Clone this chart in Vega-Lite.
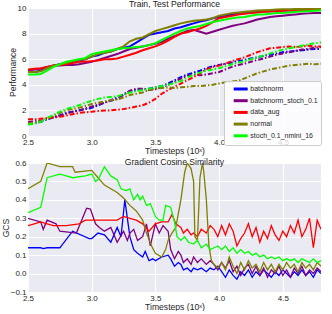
{
 "$schema": "https://vega.github.io/schema/vega-lite/v6.json",
 "padding": {"left": 1, "top": 0, "right": 12, "bottom": 0},
 "spacing": 2,
 "config": {
  "font": "Liberation Sans",
  "view": {"fill": "#EAEAF2", "stroke": null},
  "axis": {"grid": true, "gridColor": "#FFFFFF", "gridWidth": 1, "domain": false, "ticks": false, "labelFontSize": 8, "labelColor": "#262626", "titleFontSize": 8.6, "titleFontWeight": "normal", "titleColor": "#262626", "labelPadding": 2, "titlePadding": 0, "labelFlush": false, "labelOverlap": false},
  "title": {"fontSize": 8.6, "fontWeight": "normal", "color": "#1a1a1a"}
 },
 "datasets": {
  "train": [
   {"x":2.50,"a":5.0,"b":5.1,"c":5.2,"d":5.0,"e":4.8},
   {"x":2.55,"a":5.0,"b":5.2,"c":5.25,"d":5.0,"e":4.8},
   {"x":2.60,"a":5.1,"b":5.25,"c":5.3,"d":5.05,"e":4.85},
   {"x":2.65,"a":5.3,"b":5.4,"c":5.4,"d":5.3,"e":5.1},
   {"x":2.70,"a":5.5,"b":5.5,"c":5.5,"d":5.5,"e":5.4},
   {"x":2.75,"a":5.6,"b":5.5,"c":5.55,"d":5.6,"e":5.6},
   {"x":2.80,"a":5.7,"b":5.55,"c":5.6,"d":5.7,"e":5.8},
   {"x":2.85,"a":5.8,"b":5.55,"c":5.7,"d":5.85,"e":5.9},
   {"x":2.90,"a":5.9,"b":5.6,"c":5.8,"d":5.95,"e":6.0},
   {"x":2.95,"a":6.0,"b":5.7,"c":5.8,"d":6.0,"e":6.1},
   {"x":3.00,"a":6.2,"b":5.8,"c":5.85,"d":6.2,"e":6.4},
   {"x":3.05,"a":6.3,"b":5.95,"c":5.9,"d":6.4,"e":6.5},
   {"x":3.10,"a":6.5,"b":6.1,"c":6.0,"d":6.5,"e":6.6},
   {"x":3.15,"a":6.6,"b":6.25,"c":6.0,"d":6.6,"e":6.7},
   {"x":3.20,"a":6.8,"b":6.4,"c":6.05,"d":6.8,"e":6.8},
   {"x":3.25,"a":6.9,"b":6.6,"c":6.2,"d":7.0,"e":6.85},
   {"x":3.30,"a":7.0,"b":6.8,"c":6.35,"d":7.4,"e":6.9},
   {"x":3.35,"a":7.3,"b":6.9,"c":6.5,"d":7.6,"e":6.95},
   {"x":3.40,"a":7.6,"b":7.0,"c":6.7,"d":7.7,"e":7.0},
   {"x":3.45,"a":7.9,"b":7.1,"c":6.85,"d":7.95,"e":7.1},
   {"x":3.50,"a":8.0,"b":7.2,"c":7.0,"d":8.2,"e":7.25},
   {"x":3.55,"a":8.1,"b":7.35,"c":7.2,"d":8.35,"e":7.5},
   {"x":3.60,"a":8.2,"b":7.6,"c":7.45,"d":8.5,"e":7.75},
   {"x":3.65,"a":8.4,"b":7.8,"c":7.75,"d":8.65,"e":8.0},
   {"x":3.70,"a":8.5,"b":8.0,"c":8.0,"d":8.8,"e":8.2},
   {"x":3.75,"a":8.65,"b":8.2,"c":8.1,"d":8.9,"e":8.4},
   {"x":3.80,"a":8.8,"b":8.3,"c":8.25,"d":9.0,"e":8.5},
   {"x":3.85,"a":8.95,"b":8.15,"c":8.4,"d":9.05,"e":8.6},
   {"x":3.90,"a":9.05,"b":8.0,"c":8.6,"d":9.1,"e":8.75},
   {"x":3.95,"a":9.2,"b":8.15,"c":8.9,"d":9.2,"e":8.9},
   {"x":4.00,"a":9.3,"b":8.3,"c":9.2,"d":9.4,"e":9.0},
   {"x":4.05,"a":9.4,"b":8.45,"c":9.3,"d":9.5,"e":9.1},
   {"x":4.10,"a":9.5,"b":8.6,"c":9.4,"d":9.6,"e":9.2},
   {"x":4.15,"a":9.55,"b":8.7,"c":9.5,"d":9.65,"e":9.25},
   {"x":4.20,"a":9.6,"b":8.8,"c":9.55,"d":9.7,"e":9.3},
   {"x":4.25,"a":9.65,"b":8.95,"c":9.6,"d":9.75,"e":9.4},
   {"x":4.30,"a":9.7,"b":9.1,"c":9.65,"d":9.8,"e":9.5},
   {"x":4.35,"a":9.72,"b":9.2,"c":9.7,"d":9.82,"e":9.5},
   {"x":4.40,"a":9.75,"b":9.3,"c":9.72,"d":9.85,"e":9.55},
   {"x":4.45,"a":9.78,"b":9.35,"c":9.75,"d":9.88,"e":9.6},
   {"x":4.50,"a":9.8,"b":9.4,"c":9.78,"d":9.9,"e":9.6},
   {"x":4.55,"a":9.82,"b":9.45,"c":9.8,"d":9.9,"e":9.65},
   {"x":4.60,"a":9.85,"b":9.5,"c":9.82,"d":9.92,"e":9.7},
   {"x":4.65,"a":9.87,"b":9.55,"c":9.84,"d":9.93,"e":9.72},
   {"x":4.70,"a":9.88,"b":9.58,"c":9.86,"d":9.94,"e":9.75},
   {"x":4.75,"a":9.9,"b":9.6,"c":9.88,"d":9.95,"e":9.78},
   {"x":4.80,"a":9.9,"b":9.6,"c":9.9,"d":9.95,"e":9.8}
  ],
  "test": [
   {"x":2.50,"a":1.0,"b":1.1,"c":1.3,"d":1.0,"e":0.9},
   {"x":2.55,"a":1.0,"b":1.15,"c":1.3,"d":1.05,"e":0.95},
   {"x":2.60,"a":1.1,"b":1.2,"c":1.35,"d":1.15,"e":1.1},
   {"x":2.65,"a":1.3,"b":1.35,"c":1.4,"d":1.4,"e":1.4},
   {"x":2.70,"a":1.45,"b":1.5,"c":1.45,"d":1.6,"e":1.65},
   {"x":2.75,"a":1.6,"b":1.6,"c":1.5,"d":1.8,"e":1.9},
   {"x":2.80,"a":1.8,"b":1.75,"c":1.6,"d":2.0,"e":2.1},
   {"x":2.85,"a":1.9,"b":1.9,"c":1.7,"d":2.1,"e":2.25},
   {"x":2.90,"a":2.0,"b":2.0,"c":1.8,"d":2.2,"e":2.4},
   {"x":2.95,"a":2.1,"b":2.15,"c":1.85,"d":2.35,"e":2.6},
   {"x":3.00,"a":2.2,"b":2.3,"c":1.9,"d":2.5,"e":2.75},
   {"x":3.05,"a":2.4,"b":2.45,"c":1.95,"d":2.6,"e":2.9},
   {"x":3.10,"a":2.6,"b":2.6,"c":2.0,"d":2.7,"e":3.0},
   {"x":3.15,"a":2.8,"b":2.75,"c":2.0,"d":2.8,"e":3.05},
   {"x":3.20,"a":3.0,"b":2.9,"c":2.05,"d":2.85,"e":3.1},
   {"x":3.25,"a":3.25,"b":3.2,"c":2.1,"d":3.0,"e":3.25},
   {"x":3.30,"a":3.5,"b":3.55,"c":2.2,"d":3.2,"e":3.4},
   {"x":3.35,"a":3.6,"b":3.7,"c":2.3,"d":3.3,"e":3.5},
   {"x":3.40,"a":3.65,"b":3.7,"c":2.4,"d":3.4,"e":3.6},
   {"x":3.45,"a":3.7,"b":3.6,"c":2.6,"d":3.6,"e":3.7},
   {"x":3.50,"a":3.8,"b":3.65,"c":2.9,"d":3.7,"e":3.8},
   {"x":3.55,"a":3.9,"b":3.8,"c":3.3,"d":3.75,"e":3.9},
   {"x":3.60,"a":4.1,"b":4.0,"c":3.6,"d":3.8,"e":4.0},
   {"x":3.65,"a":4.35,"b":4.2,"c":3.85,"d":3.75,"e":4.15},
   {"x":3.70,"a":4.6,"b":4.5,"c":4.1,"d":3.8,"e":4.3},
   {"x":3.75,"a":4.8,"b":4.7,"c":4.35,"d":3.85,"e":4.55},
   {"x":3.80,"a":4.95,"b":4.8,"c":4.6,"d":3.9,"e":4.8},
   {"x":3.85,"a":5.1,"b":4.75,"c":4.9,"d":3.9,"e":4.95},
   {"x":3.90,"a":5.3,"b":4.8,"c":5.2,"d":3.95,"e":5.1},
   {"x":3.95,"a":5.45,"b":4.9,"c":5.4,"d":4.0,"e":5.2},
   {"x":4.00,"a":5.55,"b":5.0,"c":5.5,"d":4.1,"e":5.3},
   {"x":4.05,"a":5.65,"b":5.2,"c":5.65,"d":4.2,"e":5.45},
   {"x":4.10,"a":5.75,"b":5.4,"c":5.85,"d":4.25,"e":5.6},
   {"x":4.15,"a":5.85,"b":5.55,"c":6.0,"d":4.3,"e":5.75},
   {"x":4.20,"a":5.95,"b":5.65,"c":6.15,"d":4.5,"e":5.85},
   {"x":4.25,"a":6.05,"b":5.8,"c":6.35,"d":4.7,"e":6.0},
   {"x":4.30,"a":6.15,"b":5.95,"c":6.55,"d":4.9,"e":6.15},
   {"x":4.35,"a":6.25,"b":6.05,"c":6.7,"d":5.05,"e":6.3},
   {"x":4.40,"a":6.35,"b":6.2,"c":6.85,"d":5.2,"e":6.45},
   {"x":4.45,"a":6.45,"b":6.35,"c":6.9,"d":5.3,"e":6.6},
   {"x":4.50,"a":6.55,"b":6.45,"c":6.95,"d":5.4,"e":6.75},
   {"x":4.55,"a":6.6,"b":6.55,"c":7.0,"d":5.5,"e":6.85},
   {"x":4.60,"a":6.65,"b":6.65,"c":6.95,"d":5.55,"e":6.95},
   {"x":4.65,"a":6.7,"b":6.75,"c":7.0,"d":5.6,"e":7.05},
   {"x":4.70,"a":6.75,"b":6.8,"c":7.05,"d":5.65,"e":7.15},
   {"x":4.75,"a":6.8,"b":6.9,"c":7.0,"d":5.6,"e":7.25},
   {"x":4.80,"a":6.8,"b":6.95,"c":7.0,"d":5.65,"e":7.3}
  ],
  "gcshead": [
   {"s":"a","x":2.5,"y":0.14},{"s":"a","x":2.6,"y":0.14},{"s":"a","x":2.62,"y":0.135},{"s":"a","x":2.65,"y":0.14},{"s":"a","x":2.75,"y":0.14},{"s":"a","x":2.85,"y":0.23},{"s":"a","x":2.98,"y":0.19},{"s":"a","x":3.0,"y":0.19},{"s":"a","x":3.05,"y":0.22},{"s":"a","x":3.1,"y":0.21},{"s":"a","x":3.15,"y":0.17},{"s":"a","x":3.2,"y":0.25},{"s":"a","x":3.23,"y":0.2},{"s":"a","x":3.26,"y":0.4},{"s":"a","x":3.28,"y":0.3},{"s":"a","x":3.3,"y":0.2},{"s":"a","x":3.33,"y":0.13},{"s":"a","x":3.36,"y":0.11},{"s":"a","x":3.4,"y":0.09},{"s":"a","x":3.42,"y":0.12},{"s":"a","x":3.45,"y":0.07},{"s":"a","x":3.48,"y":0.08},{"s":"a","x":3.5,"y":0.07},{"s":"a","x":3.55,"y":0.09},{"s":"a","x":3.6,"y":0.1},{"s":"a","x":3.62,"y":0.08},{"s":"a","x":3.65,"y":0.04},{"s":"a","x":3.68,"y":0.06},{"s":"a","x":3.7,"y":0.05},{"s":"a","x":3.72,"y":0.02},{"s":"a","x":3.75,"y":0.03},{"s":"a","x":3.78,"y":0.01},{"s":"a","x":3.8,"y":0.03},{"s":"a","x":3.83,"y":0.02},{"s":"a","x":3.86,"y":0.03},{"s":"a","x":3.9,"y":0.01},{"s":"a","x":3.93,"y":0.03},{"s":"a","x":3.96,"y":0.02},
   {"s":"b","x":2.5,"y":0.3},{"s":"b","x":2.6,"y":0.28},{"s":"b","x":2.62,"y":0.24},{"s":"b","x":2.65,"y":0.29},{"s":"b","x":2.72,"y":0.27},{"s":"b","x":2.75,"y":0.23},{"s":"b","x":2.88,"y":0.22},{"s":"b","x":2.96,"y":0.355},{"s":"b","x":2.99,"y":0.35},{"s":"b","x":3.03,"y":0.27},{"s":"b","x":3.06,"y":0.25},{"s":"b","x":3.1,"y":0.23},{"s":"b","x":3.15,"y":0.25},{"s":"b","x":3.2,"y":0.17},{"s":"b","x":3.25,"y":0.23},{"s":"b","x":3.28,"y":0.18},{"s":"b","x":3.3,"y":0.22},{"s":"b","x":3.33,"y":0.24},{"s":"b","x":3.36,"y":0.18},{"s":"b","x":3.4,"y":0.2},{"s":"b","x":3.43,"y":0.27},{"s":"b","x":3.46,"y":0.15},{"s":"b","x":3.5,"y":0.27},{"s":"b","x":3.53,"y":0.22},{"s":"b","x":3.56,"y":0.26},{"s":"b","x":3.6,"y":0.23},{"s":"b","x":3.62,"y":0.13},{"s":"b","x":3.65,"y":0.08},{"s":"b","x":3.68,"y":0.12},{"s":"b","x":3.7,"y":0.1},{"s":"b","x":3.72,"y":0.06},{"s":"b","x":3.75,"y":0.08},{"s":"b","x":3.78,"y":0.05},{"s":"b","x":3.8,"y":0.09},{"s":"b","x":3.83,"y":0.06},{"s":"b","x":3.86,"y":0.08},{"s":"b","x":3.9,"y":0.05},{"s":"b","x":3.93,"y":0.07},{"s":"b","x":3.96,"y":0.05},
   {"s":"c","x":2.5,"y":0.26},{"s":"c","x":2.55,"y":0.27},{"s":"c","x":2.6,"y":0.28},{"s":"c","x":2.65,"y":0.27},{"s":"c","x":2.7,"y":0.26},{"s":"c","x":2.8,"y":0.26},{"s":"c","x":2.9,"y":0.27},{"s":"c","x":2.95,"y":0.29},{"s":"c","x":3.0,"y":0.29},{"s":"c","x":3.1,"y":0.29},{"s":"c","x":3.2,"y":0.29},{"s":"c","x":3.25,"y":0.31},{"s":"c","x":3.3,"y":0.3},{"s":"c","x":3.35,"y":0.29},{"s":"c","x":3.4,"y":0.27},{"s":"c","x":3.45,"y":0.23},{"s":"c","x":3.5,"y":0.27},{"s":"c","x":3.55,"y":0.28},{"s":"c","x":3.6,"y":0.28},{"s":"c","x":3.63,"y":0.32},{"s":"c","x":3.66,"y":0.27},{"s":"c","x":3.7,"y":0.25},{"s":"c","x":3.72,"y":0.22},{"s":"c","x":3.75,"y":0.24},{"s":"c","x":3.78,"y":0.21},{"s":"c","x":3.8,"y":0.22},{"s":"c","x":3.83,"y":0.2},{"s":"c","x":3.86,"y":0.24},{"s":"c","x":3.9,"y":0.22},{"s":"c","x":3.93,"y":0.26},{"s":"c","x":3.96,"y":0.24},
   {"s":"d","x":2.5,"y":0.46},{"s":"d","x":2.6,"y":0.5},{"s":"d","x":2.65,"y":0.6},{"s":"d","x":2.75,"y":0.58},{"s":"d","x":2.85,"y":0.58},{"s":"d","x":2.87,"y":0.55},{"s":"d","x":3.0,"y":0.56},{"s":"d","x":3.05,"y":0.52},{"s":"d","x":3.1,"y":0.48},{"s":"d","x":3.2,"y":0.44},{"s":"d","x":3.25,"y":0.41},{"s":"d","x":3.3,"y":0.37},{"s":"d","x":3.35,"y":0.34},{"s":"d","x":3.4,"y":0.29},{"s":"d","x":3.43,"y":0.22},{"s":"d","x":3.47,"y":0.15},{"s":"d","x":3.5,"y":0.11},{"s":"d","x":3.55,"y":0.09},{"s":"d","x":3.58,"y":0.13},{"s":"d","x":3.6,"y":0.18},{"s":"d","x":3.63,"y":0.22},{"s":"d","x":3.66,"y":0.25},{"s":"d","x":3.7,"y":0.4},{"s":"d","x":3.73,"y":0.55},{"s":"d","x":3.75,"y":0.6},{"s":"d","x":3.78,"y":0.57},{"s":"d","x":3.8,"y":0.5},{"s":"d","x":3.81,"y":0.2},{"s":"d","x":3.83,"y":0.18},{"s":"d","x":3.85,"y":0.52},{"s":"d","x":3.87,"y":0.6},{"s":"d","x":3.88,"y":0.55},{"s":"d","x":3.9,"y":0.4},{"s":"d","x":3.92,"y":0.15},{"s":"d","x":3.94,"y":0.07},{"s":"d","x":3.96,"y":0.05},
   {"s":"e","x":2.5,"y":0.33},{"s":"e","x":2.6,"y":0.36},{"s":"e","x":2.65,"y":0.52},{"s":"e","x":2.75,"y":0.54},{"s":"e","x":2.8,"y":0.53},{"s":"e","x":2.85,"y":0.52},{"s":"e","x":2.95,"y":0.53},{"s":"e","x":3.0,"y":0.54},{"s":"e","x":3.03,"y":0.5},{"s":"e","x":3.05,"y":0.51},{"s":"e","x":3.1,"y":0.58},{"s":"e","x":3.15,"y":0.53},{"s":"e","x":3.2,"y":0.51},{"s":"e","x":3.23,"y":0.46},{"s":"e","x":3.27,"y":0.45},{"s":"e","x":3.3,"y":0.46},{"s":"e","x":3.33,"y":0.4},{"s":"e","x":3.36,"y":0.43},{"s":"e","x":3.38,"y":0.4},{"s":"e","x":3.4,"y":0.42},{"s":"e","x":3.43,"y":0.37},{"s":"e","x":3.46,"y":0.38},{"s":"e","x":3.5,"y":0.31},{"s":"e","x":3.53,"y":0.29},{"s":"e","x":3.56,"y":0.29},{"s":"e","x":3.58,"y":0.37},{"s":"e","x":3.62,"y":0.36},{"s":"e","x":3.65,"y":0.28},{"s":"e","x":3.67,"y":0.2},{"s":"e","x":3.7,"y":0.18},{"s":"e","x":3.73,"y":0.2},{"s":"e","x":3.76,"y":0.17},{"s":"e","x":3.8,"y":0.16},{"s":"e","x":3.83,"y":0.18},{"s":"e","x":3.86,"y":0.14},{"s":"e","x":3.9,"y":0.16},{"s":"e","x":3.93,"y":0.13},{"s":"e","x":3.96,"y":0.14}
  ],
  "gcstail": [
   {"x":3.96,"a":0.02,"b":0.05,"c":0.24,"d":0.05,"e":0.14},
   {"x":3.99,"a":0.04,"b":0.02,"c":0.20,"d":0.03,"e":0.15},
   {"x":4.02,"a":0.01,"b":0.06,"c":0.26,"d":0.06,"e":0.13},
   {"x":4.05,"a":-0.02,"b":0.03,"c":0.21,"d":0.02,"e":0.15},
   {"x":4.08,"a":0.02,"b":0.07,"c":0.27,"d":0.09,"e":0.12},
   {"x":4.11,"a":-0.01,"b":0.01,"c":0.23,"d":0.04,"e":0.14},
   {"x":4.14,"a":-0.03,"b":0.04,"c":0.15,"d":0.00,"e":0.11},
   {"x":4.17,"a":0.01,"b":-0.01,"c":0.19,"d":0.06,"e":0.13},
   {"x":4.20,"a":-0.01,"b":0.03,"c":0.22,"d":0.02,"e":0.11},
   {"x":4.23,"a":0.02,"b":0.05,"c":0.27,"d":0.07,"e":0.12},
   {"x":4.26,"a":-0.02,"b":0.00,"c":0.20,"d":0.03,"e":0.10},
   {"x":4.29,"a":0.01,"b":0.04,"c":0.25,"d":0.05,"e":0.11},
   {"x":4.32,"a":-0.01,"b":-0.01,"c":0.17,"d":0.01,"e":0.09},
   {"x":4.35,"a":0.02,"b":0.03,"c":0.23,"d":0.06,"e":0.10},
   {"x":4.38,"a":0.00,"b":-0.02,"c":0.19,"d":0.02,"e":0.08},
   {"x":4.41,"a":-0.02,"b":0.02,"c":0.26,"d":0.05,"e":0.09},
   {"x":4.44,"a":0.01,"b":0.00,"c":0.21,"d":0.01,"e":0.08},
   {"x":4.47,"a":-0.01,"b":0.04,"c":0.18,"d":0.05,"e":0.09},
   {"x":4.50,"a":0.02,"b":-0.01,"c":0.23,"d":0.02,"e":0.07},
   {"x":4.53,"a":0.00,"b":0.02,"c":0.20,"d":0.06,"e":0.08},
   {"x":4.56,"a":-0.02,"b":-0.02,"c":0.26,"d":0.03,"e":0.07},
   {"x":4.59,"a":0.01,"b":0.03,"c":0.22,"d":0.05,"e":0.08},
   {"x":4.62,"a":-0.01,"b":0.00,"c":0.29,"d":0.01,"e":0.06},
   {"x":4.65,"a":0.02,"b":0.04,"c":0.20,"d":0.06,"e":0.08},
   {"x":4.68,"a":-0.01,"b":-0.01,"c":0.24,"d":0.03,"e":0.07},
   {"x":4.71,"a":0.01,"b":0.02,"c":0.30,"d":0.05,"e":0.06},
   {"x":4.74,"a":-0.02,"b":0.00,"c":0.14,"d":0.02,"e":0.08},
   {"x":4.77,"a":0.02,"b":0.03,"c":0.29,"d":0.06,"e":0.06},
   {"x":4.80,"a":0.00,"b":0.01,"c":0.24,"d":0.04,"e":0.07}
  ]
 },
 "resolve": {"scale": {"color": "independent"}, "legend": {"color": "independent"}},
 "vconcat": [
  {
   "width": 293, "height": 128,
   "title": {"text": "Train, Test Performance", "offset": -5},
   "layer": [
    {
     "data": {"name": "train"},
     "transform": [{"fold": ["a","b","c","d","e"], "as": ["s","y"]}],
     "mark": {"type": "line", "strokeWidth": 2, "clip": true},
     "encoding": {
      "x": {"field": "x", "type": "quantitative", "scale": {"domain": [2.5, 4.8], "nice": false, "zero": false}, "axis": {"values": [2.5,3,3.5,4,4.5], "tickCount": 20, "format": ".1f", "title": "Timesteps (10ˣ)"}},
      "y": {"field": "y", "type": "quantitative", "scale": {"domain": [0, 10], "nice": false}, "axis": {"values": [0,2,4,6,8,10], "tickCount": 20, "format": "d", "title": "Performance"}},
      "color": {"field": "s", "type": "nominal", "scale": {"domain": ["a","b","c","d","e"], "range": ["#0000FF","#800080","#FF0000","#808000","#00FF00"]},
       "legend": {"title": null, "orient": "none", "legendX": 196, "legendY": 73, "symbolType": "M-2,0H2", "symbolSize": 49, "symbolStrokeWidth": 3, "symbolOffset": 8.7, "labelOffset": 4.6, "labelFontSize": 7, "labelColor": "#262626", "rowPadding": -0.3, "fillColor": "rgba(255,255,255,0.8)", "strokeColor": "#CCCCCC", "padding": 3, "cornerRadius": 2,
        "labelExpr": "{'a':'batchnorm','b':'batchnorm_stoch_0.1','c':'data_aug','d':'normal','e':'stoch_0.1_nmini_16'}[datum.label]"}}
     }
    },
    {
     "data": {"name": "test"},
     "transform": [{"fold": ["a","b","c","d","e"], "as": ["s","y"]}],
     "mark": {"type": "line", "strokeWidth": 2, "strokeDash": [5, 2, 1.5, 2], "clip": true},
     "encoding": {
      "x": {"field": "x", "type": "quantitative"},
      "y": {"field": "y", "type": "quantitative"},
      "color": {"field": "s", "type": "nominal"}
     }
    }
   ]
  },
  {
   "width": 293, "height": 129,
   "title": {"text": "Gradient Cosine Similarity", "offset": -7.5},
   "layer": [
    {
     "data": {"name": "gcshead"},
     "mark": {"type": "line", "strokeWidth": 1.3, "clip": true},
     "encoding": {
      "x": {"field": "x", "type": "quantitative", "scale": {"domain": [2.5, 4.8], "nice": false, "zero": false}, "axis": {"values": [2.5,3,3.5,4,4.5], "tickCount": 20, "format": ".1f", "title": "Timesteps (10ˣ)"}},
      "y": {"field": "y", "type": "quantitative", "scale": {"domain": [-0.1, 0.6], "nice": false, "zero": false}, "axis": {"values": [-0.1,0,0.1,0.2,0.3,0.4,0.5,0.6], "tickCount": 20, "format": ".1f", "title": "GCS"}},
      "color": {"field": "s", "type": "nominal", "scale": {"domain": ["a","b","c","d","e"], "range": ["#0000FF","#800080","#FF0000","#808000","#00FF00"]}, "legend": null}
     }
    },
    {
     "data": {"name": "gcstail"},
     "transform": [{"fold": ["a","b","c","d","e"], "as": ["s","y"]}],
     "mark": {"type": "line", "strokeWidth": 1.3, "clip": true},
     "encoding": {
      "x": {"field": "x", "type": "quantitative"},
      "y": {"field": "y", "type": "quantitative"},
      "color": {"field": "s", "type": "nominal"}
     }
    }
   ]
  }
 ]
}
